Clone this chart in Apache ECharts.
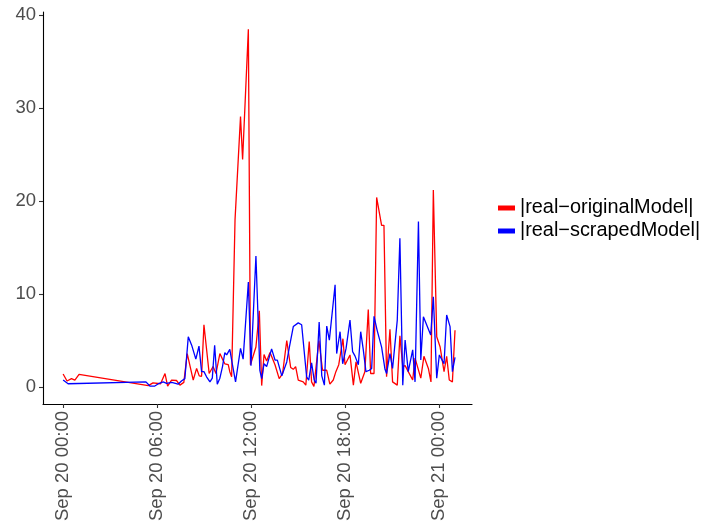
<!DOCTYPE html>
<html>
<head>
<meta charset="utf-8">
<script src="https://cdn.jsdelivr.net/npm/echarts@6/dist/echarts.min.js"></script>
<style>
  html, body { margin: 0; padding: 0; background: #fff; }
  #chart { width: 706px; height: 528px; }
</style>
</head>
<body>
<div id="chart"></div>
<script>
// |real-originalModel|
const redTimes = [
  '2017-09-20 00:01', '2017-09-20 00:16', '2017-09-20 00:33', '2017-09-20 00:46', '2017-09-20 01:02',
  '2017-09-20 05:27', '2017-09-20 05:45', '2017-09-20 06:14', '2017-09-20 06:31', '2017-09-20 06:41',
  '2017-09-20 06:56', '2017-09-20 07:15', '2017-09-20 07:28', '2017-09-20 07:43', '2017-09-20 07:56',
  '2017-09-20 08:19', '2017-09-20 08:32', '2017-09-20 08:42', '2017-09-20 08:51', '2017-09-20 09:00',
  '2017-09-20 09:20', '2017-09-20 09:35', '2017-09-20 09:46', '2017-09-20 10:01', '2017-09-20 10:11',
  '2017-09-20 10:20', '2017-09-20 10:33', '2017-09-20 10:39', '2017-09-20 10:46', '2017-09-20 10:52',
  '2017-09-20 10:59', '2017-09-20 11:20', '2017-09-20 11:28', '2017-09-20 11:50', '2017-09-20 11:58',
  '2017-09-20 12:19', '2017-09-20 12:32', '2017-09-20 12:41', '2017-09-20 12:50', '2017-09-20 13:00',
  '2017-09-20 13:13', '2017-09-20 13:32', '2017-09-20 13:48', '2017-09-20 14:01', '2017-09-20 14:17',
  '2017-09-20 14:32', '2017-09-20 14:42', '2017-09-20 14:51', '2017-09-20 15:01', '2017-09-20 15:20',
  '2017-09-20 15:30', '2017-09-20 15:43', '2017-09-20 15:52', '2017-09-20 16:01', '2017-09-20 16:20',
  '2017-09-20 16:34', '2017-09-20 16:50', '2017-09-20 17:02', '2017-09-20 17:15', '2017-09-20 17:25',
  '2017-09-20 17:36', '2017-09-20 17:52', '2017-09-20 18:00', '2017-09-20 18:19', '2017-09-20 18:32',
  '2017-09-20 18:42', '2017-09-20 19:00', '2017-09-20 19:16', '2017-09-20 19:29', '2017-09-20 19:38',
  '2017-09-20 19:51', '2017-09-20 20:01', '2017-09-20 20:20', '2017-09-20 20:29', '2017-09-20 20:39',
  '2017-09-20 20:52', '2017-09-20 21:02', '2017-09-20 21:20', '2017-09-20 21:30', '2017-09-20 21:41',
  '2017-09-20 21:50', '2017-09-20 22:02', '2017-09-20 22:19', '2017-09-20 22:28', '2017-09-20 22:50',
  '2017-09-20 23:02', '2017-09-20 23:19', '2017-09-20 23:29', '2017-09-20 23:38', '2017-09-20 23:51',
  '2017-09-21 00:04', '2017-09-21 00:19', '2017-09-21 00:29', '2017-09-21 00:39', '2017-09-21 00:51',
  '2017-09-21 01:01'
]
const redValues = [
  1.4, 0.65, 0.9, 0.75, 1.35,
  0.15, 0.45, 0.35, 1.45, 0.1,
  0.75, 0.7, 0.2, 0.5, 3.6,
  0.75, 2.0, 1.2, 1.15, 6.7,
  1.45, 2.2, 1.45, 3.6, 3.0,
  2.5, 2.4, 1.65, 1.1, 0.95,
  18.0, 29.1, 24.5, 38.5, 2.4,
  4.3, 8.2, 0.15, 3.5, 2.8,
  3.7, 2.4, 0.9, 1.45, 5.0,
  2.1, 1.9, 2.2, 0.75, 0.55,
  0.2, 4.9, 0.55, 0.05, 5.0,
  1.8, 1.8, 0.3, 0.75, 1.65,
  2.4, 5.2, 2.4, 3.45, 0.2,
  2.7, 0.4, 1.65, 8.35, 1.45,
  1.45, 20.4, 17.4, 17.4, 1.1,
  6.2, 0.55, 0.2, 5.5, 2.2,
  2.3, 1.65, 0.75, 3.1, 0.95,
  3.3, 2.0, 0.55, 21.2, 5.4,
  4.3, 1.65, 3.3, 0.75, 0.55,
  6.1
]

// |real-scrapedModel|
const blueTimes = [
  '2017-09-20 00:01', '2017-09-20 00:20', '2017-09-20 05:18', '2017-09-20 05:33', '2017-09-20 05:52',
  '2017-09-20 06:09', '2017-09-20 06:24', '2017-09-20 06:37', '2017-09-20 06:57', '2017-09-20 07:21',
  '2017-09-20 07:34', '2017-09-20 07:47', '2017-09-20 08:00', '2017-09-20 08:13', '2017-09-20 08:29',
  '2017-09-20 08:41', '2017-09-20 08:51', '2017-09-20 09:00', '2017-09-20 09:10', '2017-09-20 09:23',
  '2017-09-20 09:32', '2017-09-20 09:41', '2017-09-20 09:51', '2017-09-20 10:01', '2017-09-20 10:11',
  '2017-09-20 10:20', '2017-09-20 10:27', '2017-09-20 10:39', '2017-09-20 10:46', '2017-09-20 11:01',
  '2017-09-20 11:20', '2017-09-20 11:30', '2017-09-20 11:50', '2017-09-20 12:00', '2017-09-20 12:19',
  '2017-09-20 12:34', '2017-09-20 12:41', '2017-09-20 12:50', '2017-09-20 13:00', '2017-09-20 13:19',
  '2017-09-20 13:32', '2017-09-20 13:41', '2017-09-20 13:58', '2017-09-20 14:17', '2017-09-20 14:27',
  '2017-09-20 14:42', '2017-09-20 15:01', '2017-09-20 15:14', '2017-09-20 15:20', '2017-09-20 15:33',
  '2017-09-20 15:41', '2017-09-20 15:52', '2017-09-20 16:02', '2017-09-20 16:09', '2017-09-20 16:21',
  '2017-09-20 16:31', '2017-09-20 16:41', '2017-09-20 16:50', '2017-09-20 17:00', '2017-09-20 17:22',
  '2017-09-20 17:28', '2017-09-20 17:41', '2017-09-20 17:51', '2017-09-20 18:04', '2017-09-20 18:19',
  '2017-09-20 18:29', '2017-09-20 18:38', '2017-09-20 18:51', '2017-09-20 19:00', '2017-09-20 19:10',
  '2017-09-20 19:20', '2017-09-20 19:33', '2017-09-20 19:42', '2017-09-20 19:51', '2017-09-20 20:03',
  '2017-09-20 20:20', '2017-09-20 20:33', '2017-09-20 20:39', '2017-09-20 20:52', '2017-09-20 21:02',
  '2017-09-20 21:20', '2017-09-20 21:30', '2017-09-20 21:41', '2017-09-20 21:50', '2017-09-20 22:02',
  '2017-09-20 22:19', '2017-09-20 22:28', '2017-09-20 22:41', '2017-09-20 22:50', '2017-09-20 23:00',
  '2017-09-20 23:28', '2017-09-20 23:38', '2017-09-20 23:51', '2017-09-21 00:01', '2017-09-21 00:19',
  '2017-09-21 00:29', '2017-09-21 00:42', '2017-09-21 00:51', '2017-09-21 01:01'
]
const blueValues = [
  0.75, 0.35, 0.55, 0.1, 0.1,
  0.4, 0.55, 0.4, 0.5, 0.3,
  0.65, 0.9, 5.4, 4.5, 3.0,
  4.4, 1.65, 1.65, 1.1, 0.55,
  0.95, 4.5, 0.3, 0.95, 2.2,
  3.7, 3.45, 4.05, 2.9, 0.55,
  4.15, 3.0, 11.3, 2.3, 14.1,
  1.8, 0.9, 2.5, 2.2, 4.1,
  2.9, 2.9, 1.2, 2.7, 4.3,
  6.5, 6.9, 6.7, 6.5, 1.1,
  0.75, 2.6, 0.75, 0.4, 7.0,
  1.2, 0.2, 6.55, 5.05, 11.0,
  3.6, 5.95, 2.5, 4.15, 7.2,
  3.8, 3.35, 2.4, 5.95, 4.0,
  1.65, 1.8, 2.0, 7.6, 6.1,
  4.3, 1.9, 1.45, 3.6, 2.0,
  7.2, 16.0, 0.2, 5.05, 1.65,
  4.0, 0.55, 17.8, 2.9, 7.55,
  5.6, 9.7, 0.95, 3.45, 2.5,
  7.75, 6.5, 1.65, 3.2
]

// 坐标轴刻度
const xTicks = ['2017-09-20 00:00', '2017-09-20 06:00', '2017-09-20 12:00', '2017-09-20 18:00', '2017-09-21 00:00']
const yTicks = [0, 10, 20, 30, 40]

const monthNames = ['Jan', 'Feb', 'Mar', 'Apr', 'May', 'Jun', 'Jul', 'Aug', 'Sep', 'Oct', 'Nov', 'Dec']
const pad = n => String(n).padStart(2, '0')
const toTime = s => new Date(s.replace(' ', 'T') + ':00').getTime()
const fmtTime = v => {
  const d = new Date(v)
  return `${monthNames[d.getMonth()]} ${pad(d.getDate())} ${pad(d.getHours())}:${pad(d.getMinutes())}`
}

const base = toTime(xTicks[0])
const chart = echarts.init(document.getElementById('chart'))

// x 轴用数值轴承载时间戳，便于只显示指定刻度
const option = {
  animation: false,
  backgroundColor: '#ffffff',
  grid: { left: 43, right: 234, top: 12, bottom: 124 },
  legend: {
    orient: 'vertical',
    left: 498,
    top: 198,
    padding: 0,
    itemWidth: 17,
    itemHeight: 5,
    itemGap: 3,
    icon: 'rect',
    textStyle: { fontFamily: 'Liberation Sans', fontSize: 19.9, color: '#000' },
    data: ['|real\u2212originalModel|', '|real\u2212scrapedModel|']
  },
  xAxis: {
    type: 'value',
    min: base - 76 * 60000,
    max: base + 1566 * 60000,
    splitLine: { show: false },
    axisLine: { onZero: false, lineStyle: { color: '#000', width: 1.1 } },
    axisTick: { length: 4, lineStyle: { color: '#333', width: 1.1 }, customValues: xTicks.map(toTime) },
    axisLabel: {
      customValues: xTicks.map(toTime),
      formatter: fmtTime,
      rotate: 90,
      margin: 7,
      fontFamily: 'Liberation Sans',
      fontSize: 18.5,
      color: '#4D4D4D'
    }
  },
  yAxis: {
    type: 'value',
    min: -1.83,
    max: 40.36,
    splitLine: { show: false },
    axisLine: { show: true, onZero: false, lineStyle: { color: '#000', width: 1.1 } },
    axisTick: { show: true, length: 4, lineStyle: { color: '#333', width: 1.1 }, customValues: yTicks },
    axisLabel: {
      customValues: yTicks,
      margin: 7,
      fontFamily: 'Liberation Sans',
      fontSize: 18.5,
      color: '#4D4D4D'
    }
  },
  series: [
    {
      name: '|real\u2212originalModel|',
      type: 'line',
      showSymbol: false,
      color: '#FF0000',
      lineStyle: { width: 1.3, color: '#FF0000' },
      data: redTimes.map((t, i) => [toTime(t), redValues[i]])
    },
    {
      name: '|real\u2212scrapedModel|',
      type: 'line',
      showSymbol: false,
      color: '#0000FF',
      lineStyle: { width: 1.3, color: '#0000FF' },
      data: blueTimes.map((t, i) => [toTime(t), blueValues[i]])
    }
  ]
}

chart.setOption(option)
</script>
</body>
</html>
